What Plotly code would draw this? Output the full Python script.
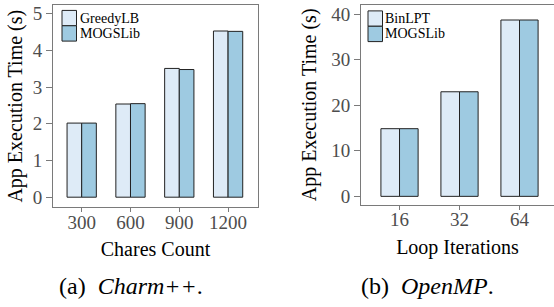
import plotly.graph_objects as go

# ---- data ----
charm_categories = ["300", "600", "900", "1200"]
greedylb_values = [2.02, 2.54, 3.51, 4.53]
mogslib_charm_values = [2.02, 2.55, 3.48, 4.52]

openmp_categories = ["16", "32", "64"]
binlpt_values = [14.85, 22.95, 38.7]
mogslib_openmp_values = [14.85, 22.95, 38.7]

charm_yticks = [0, 1, 2, 3, 4, 5]
openmp_yticks = [0, 10, 20, 30, 40]

LIGHT = "#deebf7"
DARK = "#9ecae1"
EDGE = "#222222"
AXC = "#7a7a7a"
TICKC = "#4d4d4d"
FONT = "'Liberation Serif', 'Times New Roman', Times, serif"

fig = go.Figure()

w1 = 0.30
w2 = 0.31
fig.add_trace(go.Bar(x=charm_categories, y=greedylb_values, name="GreedyLB",
                     marker=dict(color=LIGHT, line=dict(color=EDGE, width=1)),
                     offset=-w1, width=w1, xaxis="x", yaxis="y", showlegend=False))
fig.add_trace(go.Bar(x=charm_categories, y=mogslib_charm_values, name="MOGSLib",
                     marker=dict(color=DARK, line=dict(color=EDGE, width=1)),
                     offset=0, width=w1, xaxis="x", yaxis="y", showlegend=False))
fig.add_trace(go.Bar(x=openmp_categories, y=binlpt_values, name="BinLPT",
                     marker=dict(color=LIGHT, line=dict(color=EDGE, width=1)),
                     offset=-w2, width=w2, xaxis="x2", yaxis="y2", showlegend=False))
fig.add_trace(go.Bar(x=openmp_categories, y=mogslib_openmp_values, name="MOGSLib",
                     marker=dict(color=DARK, line=dict(color=EDGE, width=1)),
                     offset=0, width=w2, xaxis="x2", yaxis="y2", showlegend=False))

W, H = 554, 307
def px(x):
    return x / W
def py(y):
    return 1 - y / H

tickfont = dict(family=FONT, size=19, color=TICKC)
titlefont = dict(family=FONT, size=20, color="black")

axis_common = dict(showline=True, linecolor=AXC, linewidth=1, ticks="outside",
                   tickcolor=AXC, tickwidth=1, showgrid=False,
                   zeroline=False, tickfont=tickfont)

fig.update_layout(
    width=W, height=H,
    margin=dict(l=0, r=0, t=0, b=0),
    paper_bgcolor="white", plot_bgcolor="white",
    barmode="overlay",
    xaxis=dict(domain=[px(53), px(258)], anchor="y", type="category",
               range=[-0.588, 3.613], mirror=True, ticklen=4,
               ticklabelstandoff=-6,
               title=dict(text="Chares Count", font=titlefont, standoff=9),
               **axis_common),
    yaxis=dict(domain=[py(208.5), py(4)], anchor="x", range=[-0.28, 5.24],
               tickvals=charm_yticks, mirror=True, ticklen=6,
               title=dict(text="App Execution Time (s)", font=titlefont, standoff=4),
               **axis_common),
    xaxis2=dict(domain=[px(361), 1.0], anchor="y2", type="category",
                range=[-0.642, 2.575], mirror=True, ticklen=4,
                ticklabelstandoff=-6,
                title=dict(text="Loop Iterations", font=titlefont, standoff=10),
                **axis_common),
    yaxis2=dict(domain=[py(205.7), py(4)], anchor="x2", range=[-1.83, 42.0],
                tickvals=openmp_yticks, ticklen=6,
                title=dict(text="App Execution Time (s)", font=titlefont, standoff=9),
                **axis_common),
)

# manual legends
def add_legend(x0, ytop, labels, gap):
    sw = 14.5
    sh = 15.5
    for i, (lab, col) in enumerate(zip(labels, [LIGHT, DARK])):
        y0 = ytop + i * sh
        fig.add_shape(type="rect", xref="paper", yref="paper",
                      x0=px(x0), x1=px(x0 + sw), y0=py(y0 + sh), y1=py(y0),
                      fillcolor=col, line=dict(color=EDGE, width=1))
        fig.add_annotation(xref="paper", yref="paper", x=px(x0 + sw + gap),
                           y=py(y0 + sh / 2), text=lab, showarrow=False,
                           xanchor="left", yanchor="middle", borderpad=0,
                           font=dict(family=FONT, size=14, color="black"))

add_legend(62, 9.5, ["GreedyLB", "MOGSLib"], 2)
add_legend(368, 10, ["BinLPT", "MOGSLib"], 1)

capfont = dict(family=FONT, size=24, color="black")
fig.add_annotation(xref="paper", yref="paper", x=px(131), y=py(288),
                   text="(a)  <i>Charm++</i>.", showarrow=False,
                   xanchor="center", yanchor="middle", font=capfont)
fig.add_annotation(xref="paper", yref="paper", x=px(427), y=py(288),
                   text="(b)  <i>OpenMP</i>.", showarrow=False,
                   xanchor="center", yanchor="middle", font=capfont)

fig.write_html("out.html", config={"displayModeBar": False},
               post_script="document.body.style.margin='0';document.body.style.overflow='hidden';")
